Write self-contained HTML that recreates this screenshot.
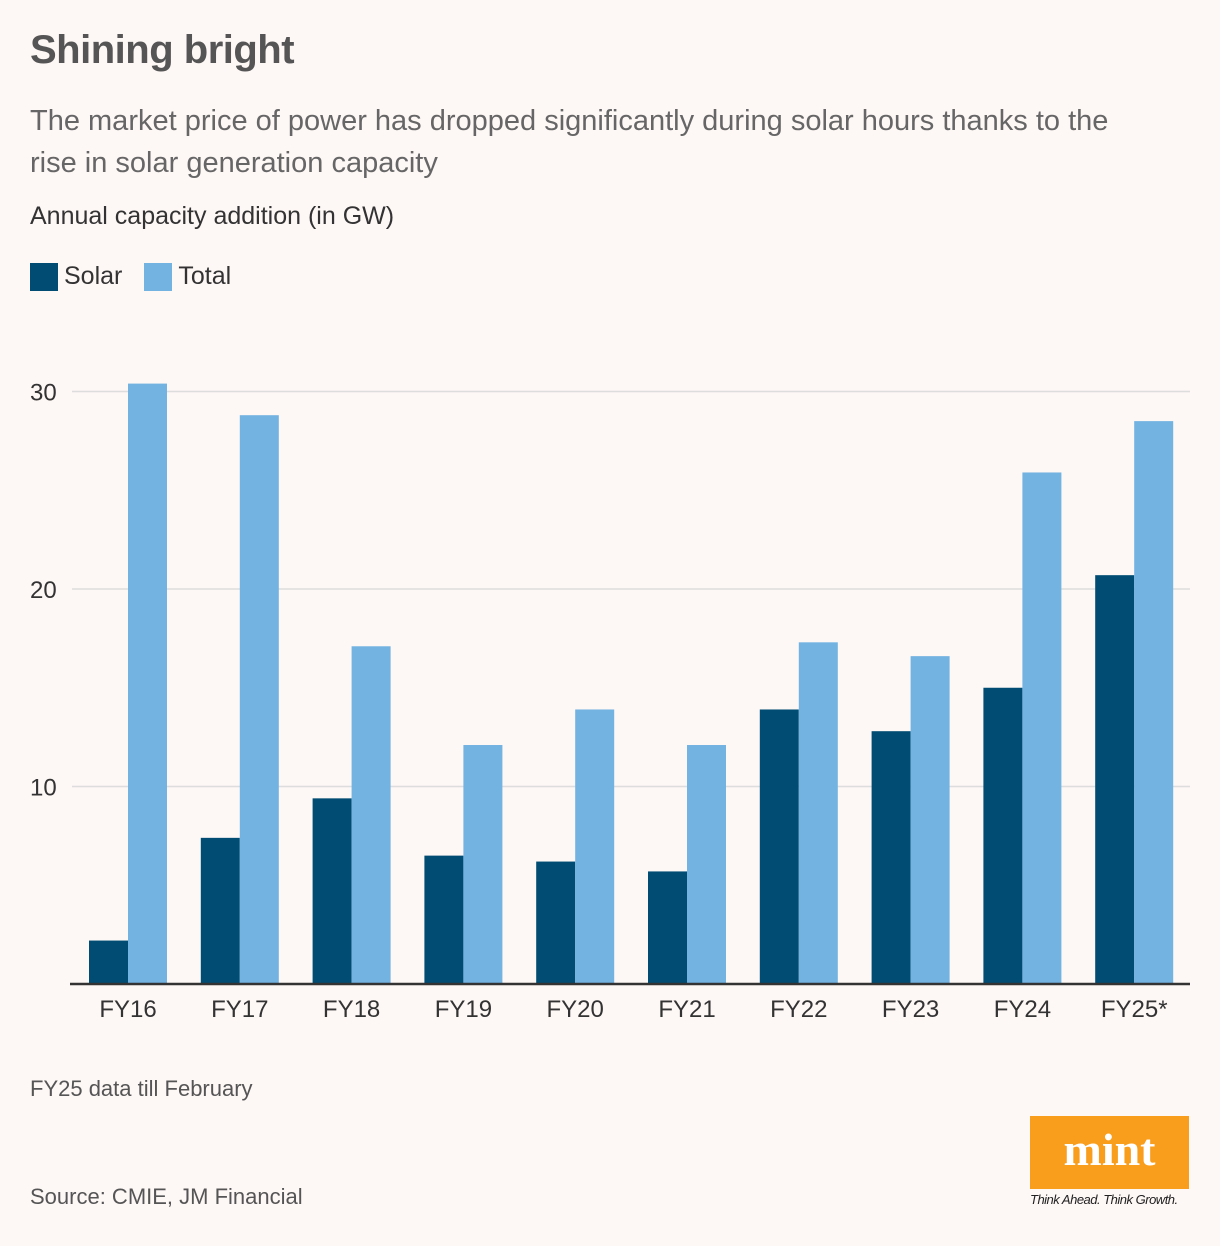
<!DOCTYPE html>
<html><head><meta charset="utf-8"><style>
body{margin:0;background:#fdf7f5;width:1220px;height:1246px;overflow:hidden;font-family:"Liberation Sans",sans-serif;color:#333}
.t{position:absolute;left:30px}
</style></head><body>
<div class="t" style="top:28px;font-size:40px;font-weight:bold;color:#555;letter-spacing:-0.5px">Shining bright</div>
<div class="t" style="top:100px;font-size:29px;line-height:42px;color:#666;width:1120px">The market price of power has dropped significantly during solar hours thanks to the rise in solar generation capacity</div>
<div class="t" style="top:202px;font-size:25px;color:#333">Annual capacity addition (in GW)</div>
<div class="t" style="top:262px;font-size:25px;display:flex;align-items:center">
<span style="width:28px;height:28px;background:#004c73;display:inline-block;margin-right:6px"></span><span style="margin-right:22px">Solar</span>
<span style="width:28px;height:28px;background:#72b3e2;display:inline-block;margin-right:6px"></span><span>Total</span></div>
<svg id="c" width="1220" height="1246" style="position:absolute;left:0;top:0"></svg>
<div class="t" style="top:1076px;font-size:22px;color:#555">FY25 data till February</div>
<div class="t" style="top:1184px;font-size:22px;color:#555">Source: CMIE, JM Financial</div>
<div style="position:absolute;left:1030px;top:1116px;width:159px;height:73px;background:#f99d1c;color:#fff;font-family:'Liberation Serif',serif;font-weight:bold;font-size:46px;text-align:center;line-height:68px">mint</div>
<div style="position:absolute;left:1030px;top:1192px;width:165px;font-size:13px;font-style:italic;color:#222;letter-spacing:-0.5px">Think Ahead. Think Growth.</div>
<script>
const categories=["FY16","FY17","FY18","FY19","FY20","FY21","FY22","FY23","FY24","FY25*"];
const solar=[2.2,7.4,9.4,6.5,6.2,5.7,13.9,12.8,15.0,20.7];
const total=[30.4,28.8,17.1,12.1,13.9,12.1,17.3,16.6,25.9,28.5];
const ticks=[10,20,30];
const svg=document.getElementById('c');const NS='http://www.w3.org/2000/svg';
const y0=984,ppu=19.75;const y=v=>y0-v*ppu;
const x=i=>89+i*111.8;
function mk(t,a){const e=document.createElementNS(NS,t);for(const k in a)e.setAttribute(k,a[k]);svg.appendChild(e);return e;}
ticks.forEach(v=>{
const l=mk('line',{x1:72,x2:1190,y1:y(v),y2:y(v),stroke:'#dddddd','stroke-width':1.5});


const t=mk('text',{x:30,y:y(v)+9,'font-size':24,fill:'#333','font-family':'Liberation Sans, sans-serif'});t.textContent=v;


});
categories.forEach((c,i)=>{
const a=mk('rect',{x:x(i),y:y(solar[i]),width:39,height:solar[i]*ppu,fill:'#004c73'});


const b=mk('rect',{x:x(i)+39,y:y(total[i]),width:39,height:total[i]*ppu,fill:'#72b3e2'});


const t=mk('text',{x:x(i)+39,y:1017,'font-size':24,fill:'#333','text-anchor':'middle','font-family':'Liberation Sans, sans-serif'});t.textContent=c;


});
const ax=mk('line',{x1:70,x2:1190,y1:y0,y2:y0,stroke:'#333','stroke-width':2.5});


</script>
</body></html>
